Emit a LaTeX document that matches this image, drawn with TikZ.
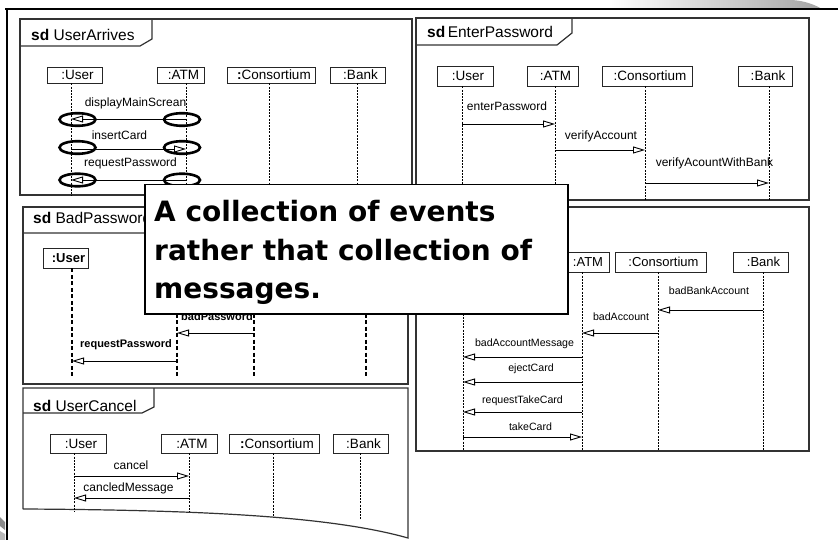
\documentclass[tikz,border=0pt]{standalone}
\usepackage{fontspec}
\setmainfont{Liberation Sans}
\newfontfamily\callfont{DejaVu Sans}
\usetikzlibrary{arrows.meta}

\newcommand\fsz[1]{\fontsize{#1}{#1}\selectfont}

% object box with its lifeline:
% name, box x, box y, box width, box height, text, lifeline x, lifeline end y
\newcommand\obj[8]{%
  \node[objbox, minimum width=#4pt, minimum height=#5pt] (#1) at (#2,#3) {#6};
  \coordinate (#1L) at (#7,#3);
  \draw[life] (#1L |- #1.south) -- (#7,#8);
}
% message: name, from, to, y, label x, label baseline, text
\newcommand\msg[7]{%
  \draw[msg] (#2L |- 0,#4) -- (#3L |- 0,#4);
  \node[lbl] (#1) at (#5,#6) {#7};
}

\begin{document}
\begin{tikzpicture}[x=1pt,y=-1pt,
  frame/.style={draw=black!80, line width=1.2pt},
  objbox/.style={draw=black!85, line width=0.9pt, inner xsep=2pt, inner ysep=0pt,
    font=\fsz{13.5}, execute at begin node={\hspace*{6pt}}},
  life/.style={draw=black, line width=0.7pt, dash pattern=on 2pt off 1.2pt},
  msg/.style={draw=black, line width=0.9pt,
    -{Triangle[open, length=12pt, width=7pt, line width=0.9pt]}},
  lbl/.style={font=\fsz{12}, inner sep=0pt, anchor=base},
  tabtxt/.style={font=\fsz{15.5}, inner sep=0pt, anchor=base west},
  focus/.style={draw=black, line width=2.6pt},
  calltxt/.style={font=\callfont\bfseries\fsz{28}, inner sep=0pt, anchor=base west}]

\useasboundingbox (0,0) rectangle (838,540);
\fill[white] (0,0) rectangle (838,540);

% slide decoration
\shade[left color=white, right color=black!35]
  (610,0) -- (792,0) .. controls (806,1) and (815,5) .. (822,9) -- (610,9) -- cycle;
\fill[black!45] (0,517) -- (5,522) -- (5,530) -- (0,526) -- cycle;
\fill[black!28] (0,531) -- (5,534) -- (5,540) -- (0,540) -- cycle;
\draw[line width=2pt] (5,9.5) -- (838,9.5);
\draw[line width=2.5pt] (7,9) -- (7,540);

% ---------- sd UserArrives ----------
\draw[frame] (20,19) rectangle (412,195);
\draw[frame] (20,46) -- (140,46) -- (152,39) -- (152,19);
\node[tabtxt] (t1) at (31,41) {\textbf{sd} UserArrives};
\obj{f1u}{74.5}{75}{55}{16}{:User}{71}{196}
\obj{f1a}{180.5}{75}{47}{16}{:ATM}{186}{196}
\obj{f1c}{271}{75}{88}{16}{{\bfseries:}Consortium}{269}{196}
\obj{f1b}{357.5}{75}{55}{16}{:Bank}{357}{196}
\msg{m11}{f1a}{f1u}{119}{135.5}{107}{displayMainScrean}
\msg{m12}{f1u}{f1a}{149}{119.5}{140}{insertCard}
\msg{m13}{f1a}{f1u}{180}{130.5}{167}{requestPassword}
\foreach \yy in {119.5,147.5,180} {
  \draw[focus] (77.5,\yy) ellipse [x radius=18, y radius=6.3];
  \draw[focus] (182,\yy) ellipse [x radius=18, y radius=6.3];
}

% ---------- sd EnterPassword ----------
\draw[frame] (416,18) rectangle (809,200);
\draw[frame] (416,45) -- (557,45) -- (572,33) -- (572,18);
\node[tabtxt] (t2) at (427,38) {\textbf{sd}\hspace{2.5pt}EnterPassword};
\obj{f2u}{465}{76}{56}{20}{:User}{462}{200}
\obj{f2a}{552.5}{76}{51}{20}{:ATM}{555}{200}
\obj{f2c}{647}{76}{90}{20}{:Consortium}{645}{200}
\obj{f2b}{765}{76}{54}{20}{:Bank}{769}{200}
\msg{m21}{f2u}{f2a}{124}{507}{111}{enterPassword}
\msg{m22}{f2a}{f2c}{150}{601}{140}{verifyAccount}
\msg{m23}{f2c}{f2b}{183}{714.5}{167}{verifyAcountWithBank}

% ---------- sd BadPassword ----------
\begin{scope}[life/.style={draw=black, line width=1.2pt, dash pattern=on 4pt off 2.5pt},
              objbox/.append style={font=\bfseries\fsz{13}},
              lbl/.append style={font=\bfseries\fsz{11}}]
\draw[frame] (23,207) rectangle (408,384);
\draw[frame] (23,233) -- (160,233) -- (172,226) -- (172,207);
\node[tabtxt] (t3) at (33,224) {\textbf{sd} BadPassword};
\obj{f3u}{65.5}{258}{45}{20}{:User}{72}{378}
\coordinate (f3aL) at (177,268);
\coordinate (f3cL) at (254,268);
\coordinate (f3bL) at (366,268);
\draw[life] (f3aL) -- (177,378);
\draw[life] (f3cL) -- (254,378);
\draw[life] (f3bL) -- (366,378);
\draw[msg] (f3bL |- 0,311) -- (f3cL |- 0,311);
\msg{m32}{f3c}{f3a}{333}{217}{320}{badPassword}
\msg{m33}{f3a}{f3u}{361}{126}{347}{requestPassword}
\end{scope}

% ---------- bad account ----------
\begin{scope}[objbox/.append style={font=\fsz{13}},
              lbl/.append style={font=\fsz{10.6}}]
\draw[frame] (416,207) rectangle (809,451);
\coordinate (f4uL) at (463,272);
\draw[life] (f4uL) -- (463,451);
\obj{f4a}{585}{262}{48}{20}{:ATM}{582}{451}
\obj{f4c}{660.5}{262}{91}{20}{:Consortium}{658}{451}
\obj{f4b}{760.5}{262}{55}{20}{:Bank}{763}{451}
\msg{m41}{f4b}{f4c}{310}{709}{294}{badBankAccount}
\msg{m42}{f4c}{f4a}{333}{621}{320}{badAccount}
\msg{m43}{f4a}{f4u}{357}{524.5}{346}{badAccountMessage}
\msg{m44}{f4a}{f4u}{382}{531}{371}{ejectCard}
\msg{m45}{f4a}{f4u}{412}{522.5}{403}{requestTakeCard}
\msg{m46}{f4u}{f4a}{437}{530.5}{430}{takeCard}
\end{scope}

% ---------- sd UserCancel ----------
\draw[frame] (23,509) -- (23,388) -- (408,388) -- (408,538)
  .. controls (330,516) and (200,510) .. (23,509);
\draw[frame] (23,413) -- (142,413) -- (154,407) -- (154,388);
\node[tabtxt] (t5) at (33,411) {\textbf{sd} UserCancel};
\obj{f5u}{78}{443.5}{56}{19}{:User}{74}{512}
\obj{f5a}{189}{443.5}{56}{19}{:ATM}{189}{512}
\obj{f5c}{274}{443.5}{90}{19}{{\bfseries:}Consortium}{273}{517}
\obj{f5b}{360.5}{443.5}{55}{19}{:Bank}{360}{519}
\msg{m51}{f5u}{f5a}{476}{131}{469}{cancel}
\msg{m52}{f5a}{f5u}{498}{128.5}{491}{cancledMessage}

% ---------- note ----------
\node[draw=black, fill=white, line width=1.5pt, anchor=north west, inner sep=0pt,
      minimum width=423pt, minimum height=129pt] (note) at (144,184) {};
\node[calltxt] (n1) at (154,222) {A collection of events};
\node[calltxt] (n2) at (154,260) {rather that collection of};
\node[calltxt] (n3) at (154,298) {messages.};

\end{tikzpicture}
\end{document}
